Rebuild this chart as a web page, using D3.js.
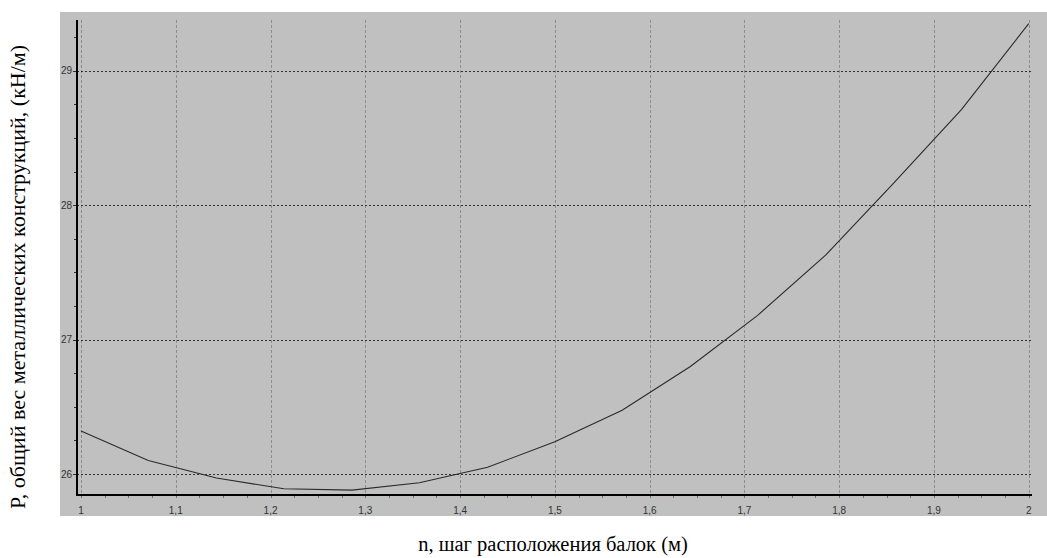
<!DOCTYPE html>
<html>
<head>
<meta charset="utf-8">
<script src="https://cdn.jsdelivr.net/npm/d3@7"></script>
<style>
  html, body { margin: 0; padding: 0; background: #ffffff; }
  svg { display: block; }
</style>
</head>
<body>
<svg id="chart" width="1047" height="558"></svg>
<script>
// Beam spacing n (m) and total weight of steel structures P (kN/m)
const spacing = [1, 1.071, 1.143, 1.214, 1.286, 1.357, 1.429, 1.5, 1.571, 1.643, 1.714, 1.786, 1.857, 1.929, 2];
const weight = [26.32, 26.10, 25.97, 25.89, 25.88, 25.935, 26.05, 26.24, 26.475, 26.80, 27.18, 27.63, 28.16, 28.71, 29.35];

const xTicks = [1, 1.1, 1.2, 1.3, 1.4, 1.5, 1.6, 1.7, 1.8, 1.9, 2];
const xTickLabels = ["1", "1,1", "1,2", "1,3", "1,4", "1,5", "1,6", "1,7", "1,8", "1,9", "2"];
const yTicks = [26, 27, 28, 29];
const yTickLabels = ["26", "27", "28", "29"];

const xTitle = "n, шаг расположения балок (м)";
const yTitle = "P, общий вес металлических конструкций, (кН/м)";

const svg = d3.select("#chart");

// plot panel
const panel = { left: 60, top: 12, right: 1047, bottom: 516 };
const axisLeft = 77, axisBottom = 495, axisTop = 20, axisRight = 1032;

const x = d3.scaleLinear().domain([1, 2]).range([81, 1028.7]);
const y = d3.scaleLinear().domain([26, 29]).range([474, 70.7]);

svg.append("rect")
  .attr("x", panel.left).attr("y", panel.top)
  .attr("width", panel.right - panel.left).attr("height", panel.bottom - panel.top)
  .attr("fill", "#c0c0c0");

// vertical dashed grid
svg.append("g").selectAll("line").data(xTicks).join("line")
  .attr("x1", d => Math.round(x(d)) + 0.5).attr("x2", d => Math.round(x(d)) + 0.5)
  .attr("y1", axisTop).attr("y2", axisBottom + 3)
  .attr("stroke", "#8c8c8c").attr("stroke-width", 1)
  .attr("stroke-dasharray", "3,2")
  .attr("shape-rendering", "crispEdges");

// horizontal dotted grid
svg.append("g").selectAll("line").data(yTicks).join("line")
  .attr("x1", 73).attr("x2", axisRight)
  .attr("y1", d => Math.round(y(d)) + 0.5).attr("y2", d => Math.round(y(d)) + 0.5)
  .attr("stroke", "#303030").attr("stroke-width", 1)
  .attr("stroke-dasharray", "2,2")
  .attr("shape-rendering", "crispEdges");

// minor ticks on x axis
const xMinor = d3.range(0, 41).map(i => 1 + i * 0.025);
svg.append("g").selectAll("line").data(xMinor).join("line")
  .attr("x1", d => Math.round(x(d)) + 0.5).attr("x2", d => Math.round(x(d)) + 0.5)
  .attr("y1", axisBottom).attr("y2", axisBottom + 3)
  .attr("stroke", "#707070").attr("stroke-width", 1)
  .attr("shape-rendering", "crispEdges");

// minor ticks on y axis
const yMinor = d3.range(0, 14).map(i => 26 + i * 0.25);
svg.append("g").selectAll("line").data(yMinor).join("line")
  .attr("x1", axisLeft - 3).attr("x2", axisLeft)
  .attr("y1", d => Math.round(y(d)) + 0.5).attr("y2", d => Math.round(y(d)) + 0.5)
  .attr("stroke", "#303030").attr("stroke-width", 1)
  .attr("shape-rendering", "crispEdges");

// axes lines
svg.append("line")
  .attr("x1", axisLeft).attr("x2", axisLeft)
  .attr("y1", axisTop).attr("y2", axisBottom + 1)
  .attr("stroke", "#000").attr("stroke-width", 2)
  .attr("shape-rendering", "crispEdges");
svg.append("line")
  .attr("x1", axisLeft - 1).attr("x2", axisRight)
  .attr("y1", axisBottom).attr("y2", axisBottom)
  .attr("stroke", "#000").attr("stroke-width", 2)
  .attr("shape-rendering", "crispEdges");

// tick labels
svg.append("g").selectAll("text").data(xTicks).join("text")
  .attr("x", d => x(d)).attr("y", 514)
  .attr("text-anchor", "middle")
  .attr("font-family", "'Liberation Sans', Arial, sans-serif")
  .attr("font-size", 10)
  .attr("fill", "#333")
  .text((d, i) => xTickLabels[i]);

svg.append("g").selectAll("text").data(yTicks).join("text")
  .attr("x", 72).attr("y", d => y(d) + 3.5)
  .attr("text-anchor", "end")
  .attr("font-family", "'Liberation Sans', Arial, sans-serif")
  .attr("font-size", 10)
  .attr("fill", "#333")
  .text((d, i) => yTickLabels[i]);

// data line
const line = d3.line().x(d => x(d[0])).y(d => y(d[1]));
svg.append("path")
  .datum(spacing.map((s, i) => [s, weight[i]]))
  .attr("d", line)
  .attr("fill", "none")
  .attr("stroke", "#2a2a2a")
  .attr("stroke-width", 1.1);

// axis titles
svg.append("text")
  .attr("x", 553).attr("y", 551)
  .attr("text-anchor", "middle")
  .attr("font-family", "'Liberation Serif', 'Times New Roman', serif")
  .attr("font-size", 20.5)
  .attr("fill", "#000")
  .text(xTitle);

svg.append("text")
  .attr("transform", "translate(25,277) rotate(-90)")
  .attr("text-anchor", "middle")
  .attr("font-family", "'Liberation Serif', 'Times New Roman', serif")
  .attr("font-size", 22)
  .attr("fill", "#000")
  .text(yTitle);
</script>
</body>
</html>
